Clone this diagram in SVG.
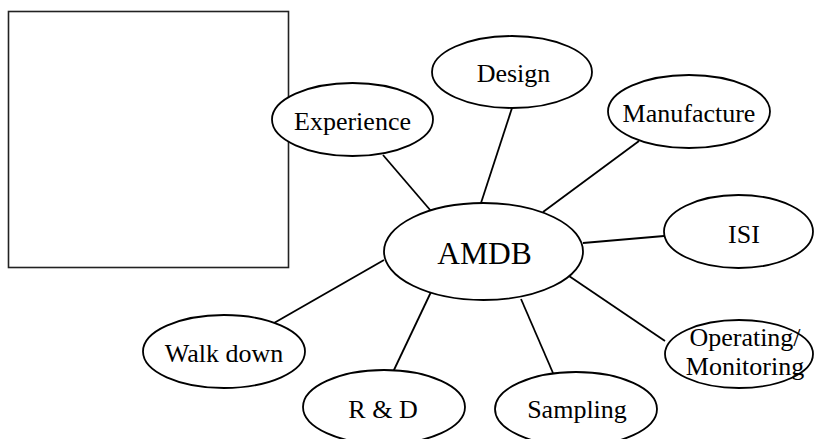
<svg xmlns="http://www.w3.org/2000/svg" width="814" height="439" viewBox="0 0 814 439">
<style>
.n{fill:#fff;stroke:#000;stroke-width:1.8}
.t{font-family:"Liberation Serif","Times New Roman",serif;font-size:26px;fill:#000;text-anchor:middle}
.c line{stroke:#000;stroke-width:1.8}
</style>
<rect width="814" height="439" fill="#fff"/>
<rect id="box" x="8.5" y="11.5" width="280" height="256" fill="#fff" stroke="#222" stroke-width="1.6"/>
<g class="c" id="connectors">
<line x1="383" y1="155" x2="431" y2="211"/>
<line x1="512" y1="108" x2="481" y2="203"/>
<line x1="639" y1="141" x2="543" y2="212"/>
<line x1="664" y1="236" x2="583" y2="243"/>
<line x1="569" y1="276" x2="665" y2="341"/>
<line x1="521" y1="299" x2="553" y2="373"/>
<line x1="431" y1="292" x2="393" y2="372"/>
<line x1="384" y1="260" x2="274" y2="323"/>
</g>
<g id="amdb"><ellipse class="n" cx="483.5" cy="251.5" rx="99.5" ry="48.5"/><text class="t" x="484.5" y="264" style="font-size:31.5px">AMDB</text></g>
<g id="experience"><ellipse class="n" cx="352.5" cy="119.5" rx="80.5" ry="36.5"/><text class="t" x="352.5" y="130">Experience</text></g>
<g id="design"><ellipse class="n" cx="512" cy="72" rx="80" ry="36"/><text class="t" x="513.5" y="82">Design</text></g>
<g id="manufacture"><ellipse class="n" cx="689" cy="111.5" rx="81" ry="36.5"/><text class="t" x="689" y="122">Manufacture</text></g>
<g id="isi"><ellipse class="n" cx="738.5" cy="231.5" rx="74.5" ry="36.5"/><text class="t" x="744" y="243">ISI</text></g>
<g id="operating"><ellipse class="n" cx="739" cy="354" rx="74" ry="34"/><text class="t" x="745" y="346">Operating/</text><text class="t" x="745" y="375">Monitoring</text></g>
<g id="sampling"><ellipse class="n" cx="576" cy="409" rx="81" ry="37"/><text class="t" x="577" y="418">Sampling</text></g>
<g id="rd"><ellipse class="n" cx="384" cy="407" rx="81" ry="37"/><text class="t" x="383" y="418">R &amp; D</text></g>
<g id="walkdown"><ellipse class="n" cx="224" cy="351.5" rx="81" ry="36.5"/><text class="t" x="224" y="362">Walk down</text></g>
</svg>
